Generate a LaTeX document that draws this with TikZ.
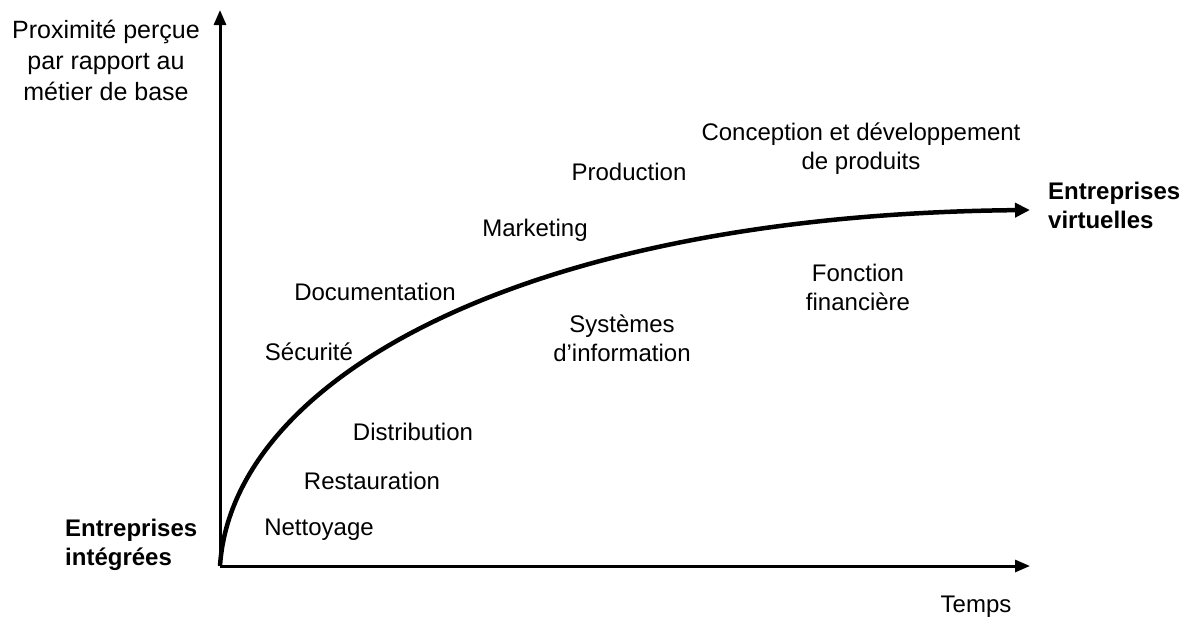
\documentclass[tikz,border=0pt]{standalone}
\usepackage{fontspec}
\setmainfont{Liberation Sans}
\usetikzlibrary{arrows.meta}
\begin{document}
\begin{tikzpicture}[x=1pt,y=-1pt,
  lbl/.style={inner sep=0pt, font=\fontsize{24}{29}\selectfont, align=center},
  blbl/.style={lbl, font=\fontsize{24}{29}\selectfont\bfseries},
  axis/.style={line width=3pt, -{Triangle[length=15pt,width=12pt]}},
  curve/.style={line width=4.5pt, -{Triangle[length=15pt,width=14pt]}}]
\useasboundingbox (0,0) rectangle (1192,621);
\coordinate (O) at (220,566);
\coordinate (Ytip) at (220,10);
\coordinate (Xtip) at (1030,566);
\coordinate (Ctip) at (1030,210);
\draw[axis] (O) -- (Ytip);
\draw[axis] (O) -- (Xtip);
\draw[curve] (O) .. controls (232,380) and (520,215) .. (Ctip);
\node[lbl, font=\fontsize{25}{31}\selectfont] (ylab) at (106,60) {Proximité perçue\\par rapport au\\métier de base};
\node[lbl] (temps) at (976,607) {Temps};
\node[blbl, anchor=west, align=left] (integ) at (65,545) {Entreprises\\intégrées};
\node[blbl, anchor=west, align=left] (virt) at (1048,205) {Entreprises\\virtuelles};
\node[lbl] (nett) at (319,530) {Nettoyage};
\node[lbl] (rest) at (372,481) {Restauration};
\node[lbl] (dist) at (413,432) {Distribution};
\node[lbl] (secu) at (309,352) {Sécurité};
\node[lbl] (doc) at (375,292) {Documentation};
\node[lbl] (mark) at (535,230) {Marketing};
\node[lbl] (prod) at (629,172) {Production};
\node[lbl] (conc) at (861,149) {Conception et développement\\de produits};
\node[lbl] (syst) at (622,338) {Systèmes\\d’information};
\node[lbl] (fonc) at (858,287) {Fonction\\financière};
\end{tikzpicture}
\end{document}
